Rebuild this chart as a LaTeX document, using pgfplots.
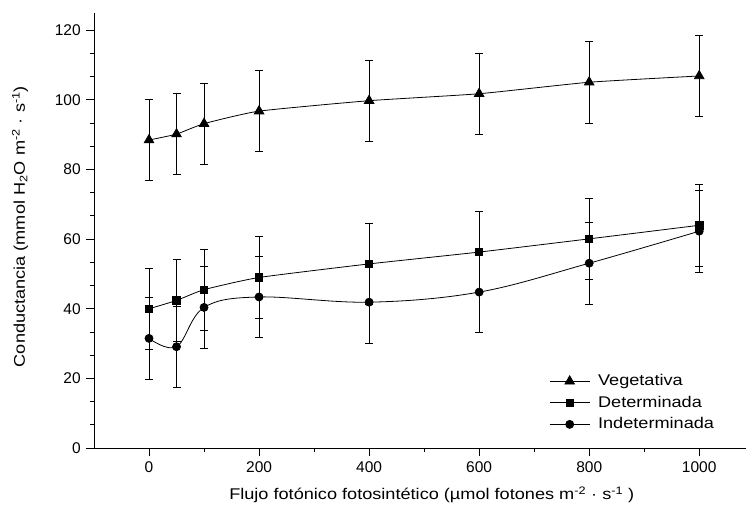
\documentclass[border=0pt]{standalone}
\usepackage{pgfplots}
\pgfplotsset{compat=1.18}
\usepackage{fontspec}
\setmainfont{Liberation Sans}
\newfontfamily\widefont[FakeStretch=1.17]{Liberation Sans}
\newcommand{\fs}{\fontsize{15.5bp}{18bp}\selectfont}
\newcommand{\fw}{\widefont\fontsize{15.5bp}{18bp}\selectfont}
\begin{document}
\fs
\begin{tikzpicture}
\begin{axis}[
  width=652bp, height=435bp, scale only axis,
  xmin=-100, xmax=1085, ymin=0, ymax=125,
  axis x line*=bottom, axis y line*=left,
  axis line style={line width=1pt},
  xtick={0,200,400,600,800,1000},
  ytick={0,20,40,60,80,100,120},
  minor x tick num=1, minor y tick num=2,
  tick align=outside,
  major tick length=8bp, minor tick length=4bp,
  tick style={line width=1pt, black},
  /pgf/number format/assume math mode=true,
  /pgf/number format/1000 sep={},
  tick label style={font=\fs},
  label style={font=\fw},
  xlabel={Flujo fotónico fotosintético (µmol fotones m\textsuperscript{-2} · s\textsuperscript{-1} )},
  ylabel={Conductancia (mmol H\textsubscript{2}O m\textsuperscript{-2} · s\textsuperscript{-1})},
  xlabel style={at={(axis description cs:0.518,0)}, yshift=-47bp, anchor=center},
  ylabel style={at={(axis description cs:-0.1135,0.509)}, anchor=center},
  legend style={draw=none, fill=none, at={(0.698,0.174)}, anchor=north west,
    font=\fw, row sep=4bp, inner sep=0pt},
  legend cell align=left,
  legend image code/.code={\draw[mark repeat=2, mark phase=2, #1] plot coordinates {(0bp,0bp) (20bp,0bp) (40bp,0bp)}; \path (46bp,0bp);},
  error bars/y dir=both, error bars/y explicit,
  error bars/error bar style={line width=0.8pt, black},
  error bars/error mark options={line width=0.8pt, black, mark size=4bp, rotate=90},
]
\addplot[black, line width=0.8pt, smooth, tension=0.3, mark=triangle*, mark size=5.5bp, mark options={fill=black, solid}]
  coordinates {
  (0,88.5) +- (0,11.7)
  (50,90.2) +- (0,11.7)
  (100,93.2) +- (0,11.7)
  (200,96.8) +- (0,11.7)
  (400,99.8) +- (0,11.7)
  (600,101.8) +- (0,11.7)
  (800,105.1) +- (0,11.7)
  (1000,106.9) +- (0,11.7)
  };
\addlegendentry{Vegetativa}
\addplot[black, line width=0.8pt, smooth, tension=0.3, mark=square*, mark size=3.7bp, mark options={fill=black, solid}]
  coordinates {
  (0,40.0) +- (0,11.7)
  (50,42.4) +- (0,11.7)
  (100,45.5) +- (0,11.7)
  (200,49.0) +- (0,11.7)
  (400,52.9) +- (0,11.7)
  (600,56.3) +- (0,11.7)
  (800,60.1) +- (0,11.7)
  (1000,64.0) +- (0,11.7)
  };
\addlegendentry{Determinada}
\addplot[black, line width=0.8pt, smooth, tension=0.6, mark=*, mark size=4bp, mark options={fill=black, solid}]
  coordinates {
  (0,31.5) +- (0,11.7)
  (50,29.1) +- (0,11.7)
  (100,40.4) +- (0,11.7)
  (200,43.4) +- (0,11.7)
  (400,41.9) +- (0,11.7)
  (600,44.8) +- (0,11.7)
  (800,53.1) +- (0,11.7)
  (1000,62.3) +- (0,11.7)
  };
\addlegendentry{Indeterminada}
\end{axis}
\pgfresetboundingbox
\path[use as bounding box] ([xshift=-94bp,yshift=-65bp]current axis.south west) rectangle ([yshift=13bp]current axis.north east);
\end{tikzpicture}
\end{document}
